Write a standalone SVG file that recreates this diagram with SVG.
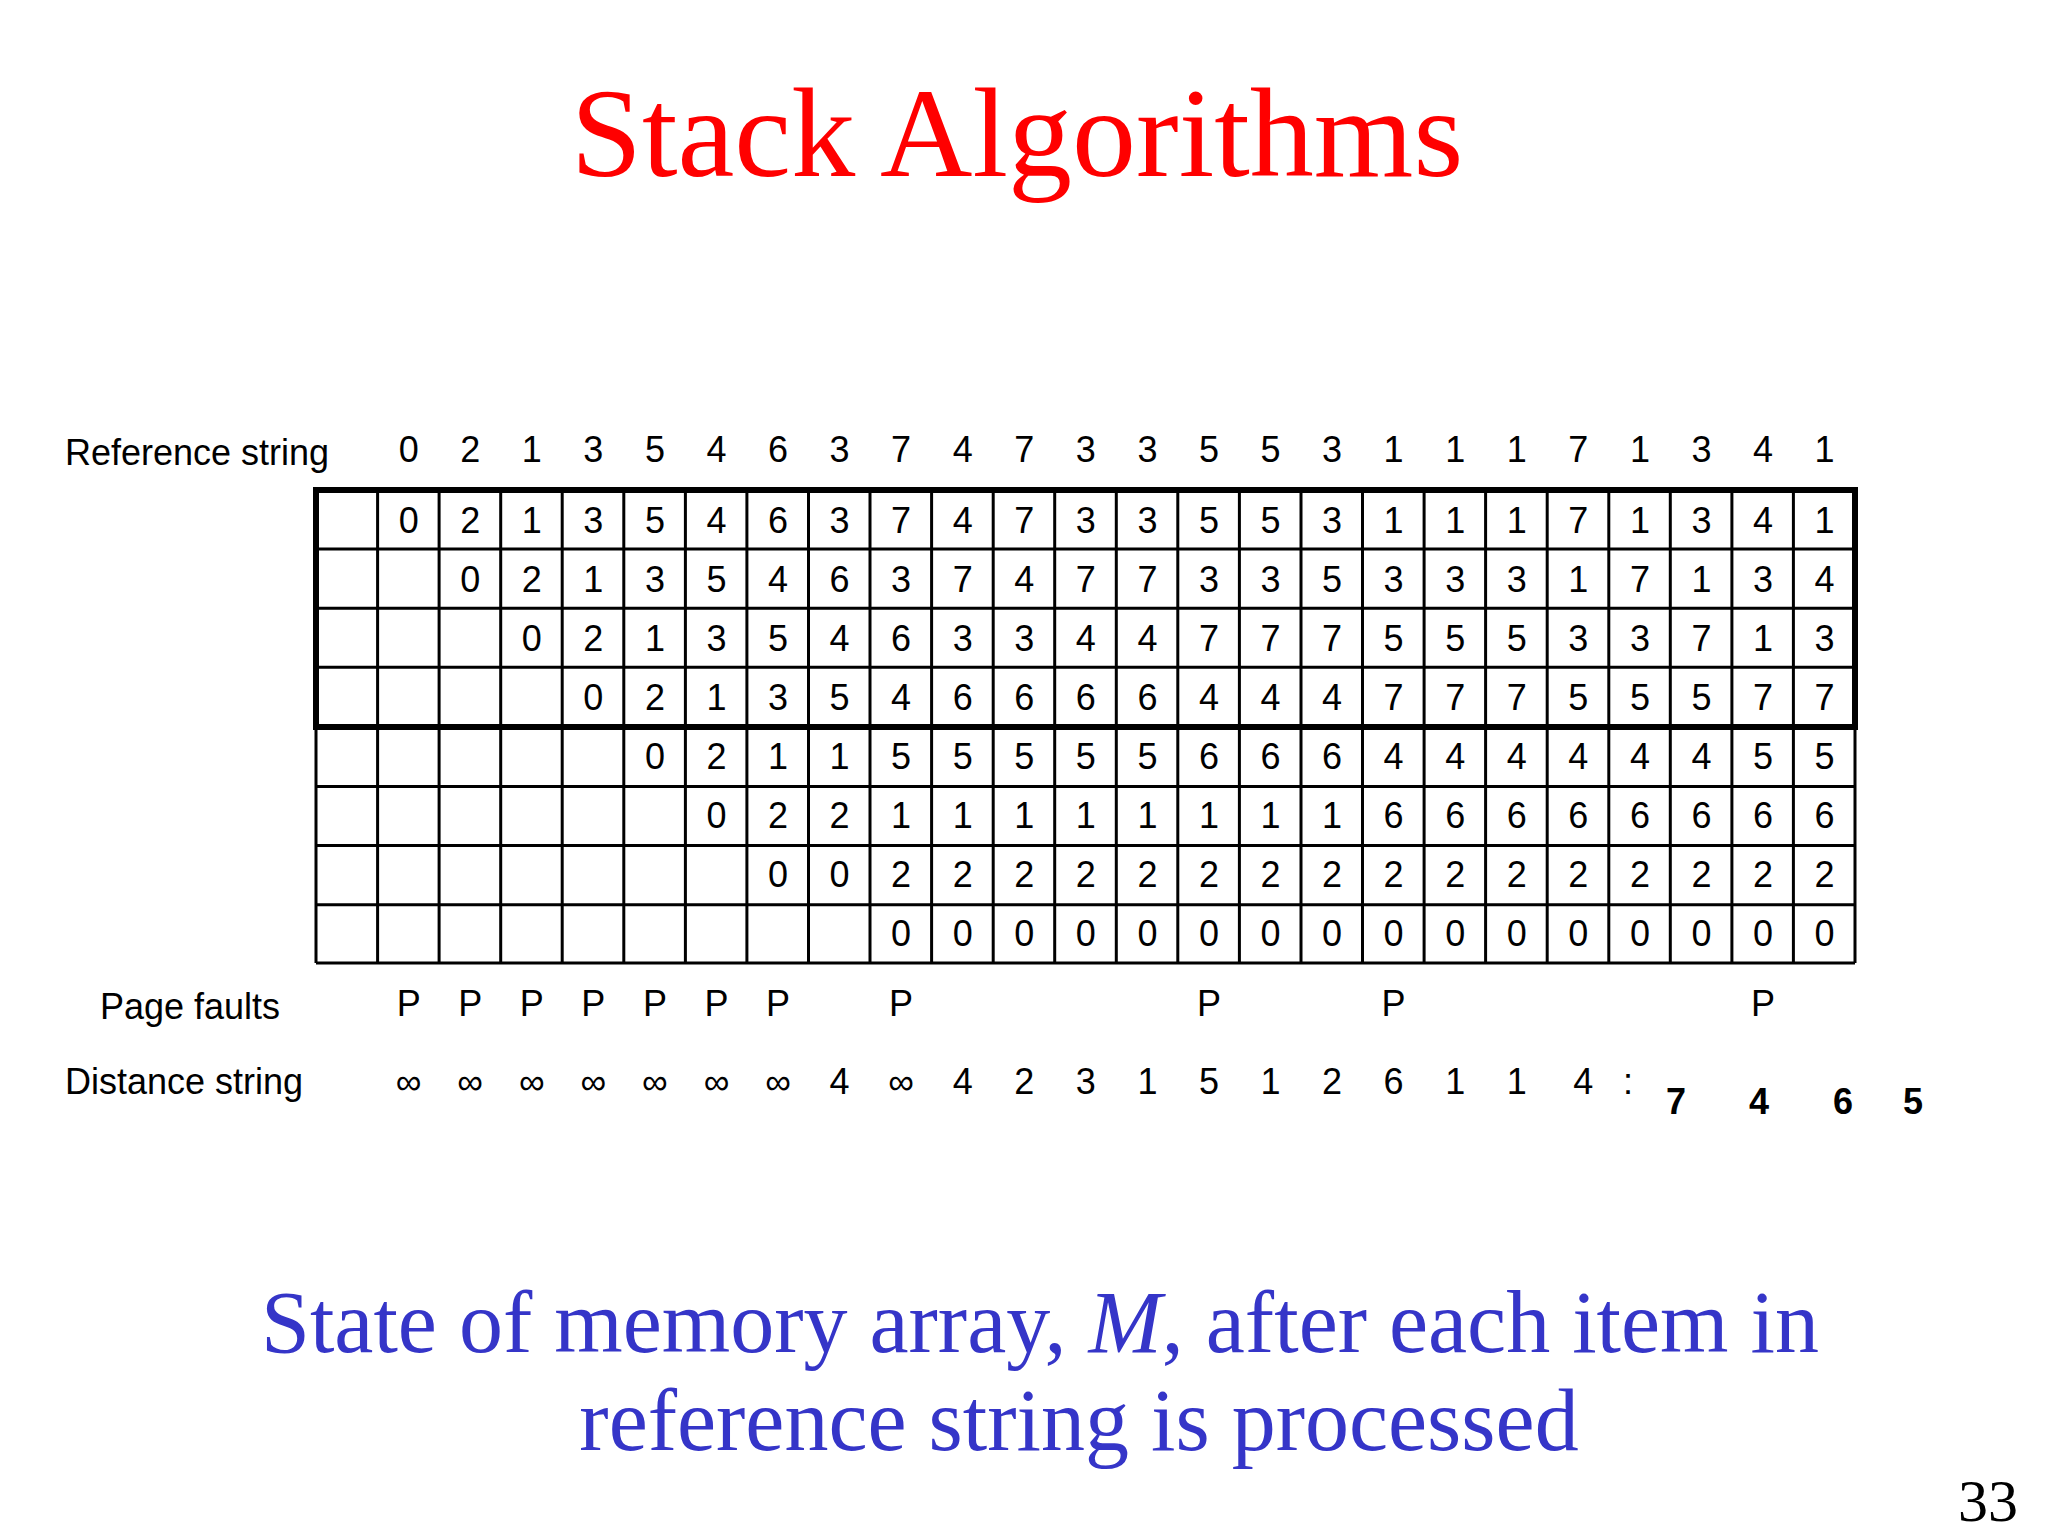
<svg xmlns="http://www.w3.org/2000/svg" width="2048" height="1536" viewBox="0 0 2048 1536">
<style>
.t{font-family:"Liberation Sans",Arial,sans-serif;font-size:36px;fill:#000;text-anchor:middle}
.l{font-family:"Liberation Sans",Arial,sans-serif;font-size:36px;fill:#000}
.g{stroke:#000;stroke-width:3;fill:none}
</style>
<rect width="2048" height="1536" fill="#fff"/>
<text x="1017" y="176" font-family="Liberation Serif,serif" font-size="128" fill="#f00" text-anchor="middle">Stack Algorithms</text>
<g id="labels">
<text class="l" x="65" y="465">Reference string</text>
<text class="l" x="100" y="1019">Page faults</text>
<text class="l" x="65" y="1094">Distance string</text>
</g>
<g id="refstring"><text class="t" y="462" x="408.7 470.2 531.8 593.3 654.9 716.5 778.0 839.6 901.1 962.7 1024.3 1085.8 1147.4 1208.9 1270.5 1332.1 1393.6 1455.2 1516.7 1578.3 1639.9 1701.4 1763.0 1824.5">021354637473355311171341</text></g>
<g id="grid">
<path class="g" d="M316 549.1H1855M316 608.2H1855M316 667.3H1855M316 786.5H1855M316 845.6H1855M316 904.7H1855M316 963H1855
M377.6 490V963M439.1 490V963M500.7 490V963M562.2 490V963M623.8 490V963M685.4 490V963M746.9 490V963M808.5 490V963M870 490V963M931.6 490V963M993.2 490V963M1054.7 490V963M1116.3 490V963M1177.8 490V963M1239.4 490V963M1301 490V963M1362.5 490V963M1424.1 490V963M1485.6 490V963M1547.2 490V963M1608.8 490V963M1670.3 490V963M1731.9 490V963M1793.4 490V963M316 727V963M1855 727V963"/>
<rect x="316" y="490" width="1539" height="237" fill="none" stroke="#000" stroke-width="6"/>
</g>
<g id="cells">
<text class="t" y="533" x="408.7 470.2 531.8 593.3 654.9 716.5 778.0 839.6 901.1 962.7 1024.3 1085.8 1147.4 1208.9 1270.5 1332.1 1393.6 1455.2 1516.7 1578.3 1639.9 1701.4 1763.0 1824.5">021354637473355311171341</text>
<text class="t" y="592" x="470.2 531.8 593.3 654.9 716.5 778.0 839.6 901.1 962.7 1024.3 1085.8 1147.4 1208.9 1270.5 1332.1 1393.6 1455.2 1516.7 1578.3 1639.9 1701.4 1763.0 1824.5">02135463747733533317134</text>
<text class="t" y="651" x="531.8 593.3 654.9 716.5 778.0 839.6 901.1 962.7 1024.3 1085.8 1147.4 1208.9 1270.5 1332.1 1393.6 1455.2 1516.7 1578.3 1639.9 1701.4 1763.0 1824.5">0213546334477755533713</text>
<text class="t" y="710" x="593.3 654.9 716.5 778.0 839.6 901.1 962.7 1024.3 1085.8 1147.4 1208.9 1270.5 1332.1 1393.6 1455.2 1516.7 1578.3 1639.9 1701.4 1763.0 1824.5">021354666644477755577</text>
<text class="t" y="769" x="654.9 716.5 778.0 839.6 901.1 962.7 1024.3 1085.8 1147.4 1208.9 1270.5 1332.1 1393.6 1455.2 1516.7 1578.3 1639.9 1701.4 1763.0 1824.5">02115555566644444455</text>
<text class="t" y="828" x="716.5 778.0 839.6 901.1 962.7 1024.3 1085.8 1147.4 1208.9 1270.5 1332.1 1393.6 1455.2 1516.7 1578.3 1639.9 1701.4 1763.0 1824.5">0221111111166666666</text>
<text class="t" y="887" x="778.0 839.6 901.1 962.7 1024.3 1085.8 1147.4 1208.9 1270.5 1332.1 1393.6 1455.2 1516.7 1578.3 1639.9 1701.4 1763.0 1824.5">002222222222222222</text>
<text class="t" y="946" x="901.1 962.7 1024.3 1085.8 1147.4 1208.9 1270.5 1332.1 1393.6 1455.2 1516.7 1578.3 1639.9 1701.4 1763.0 1824.5">0000000000000000</text>
</g>
<g id="faults"><text class="t" y="1016" x="408.7 470.2 531.8 593.3 654.9 716.5 778.0 901.1 1208.9 1393.6 1763.0">PPPPPPPPPPP</text></g>
<g id="distance">
<text class="t" y="1094" x="408.7 470.2 531.8 593.3 654.9 716.5 778.0 839.6 901.1 962.7 1024.3 1085.8 1147.4 1208.9 1270.5 1332.1 1393.6 1455.2 1516.7 1578.3">∞∞∞∞∞∞∞4∞4231512611 4</text>
<text class="t" y="1094" x="1628" font-size="24">:</text>
<text class="t" y="1114" font-weight="bold" x="1676 1759 1843 1913">7465</text>
</g>
<g id="caption" font-family="Liberation Serif,serif" font-size="88" fill="#3535c8" text-anchor="middle">
<text x="1040" y="1352">State of memory array, <tspan font-style="italic">M</tspan>, after each item in</text>
<text x="1079" y="1450">reference string is processed</text>
</g>
<text x="2018" y="1521" font-family="Liberation Serif,serif" font-size="60" text-anchor="end">33</text>
</svg>
